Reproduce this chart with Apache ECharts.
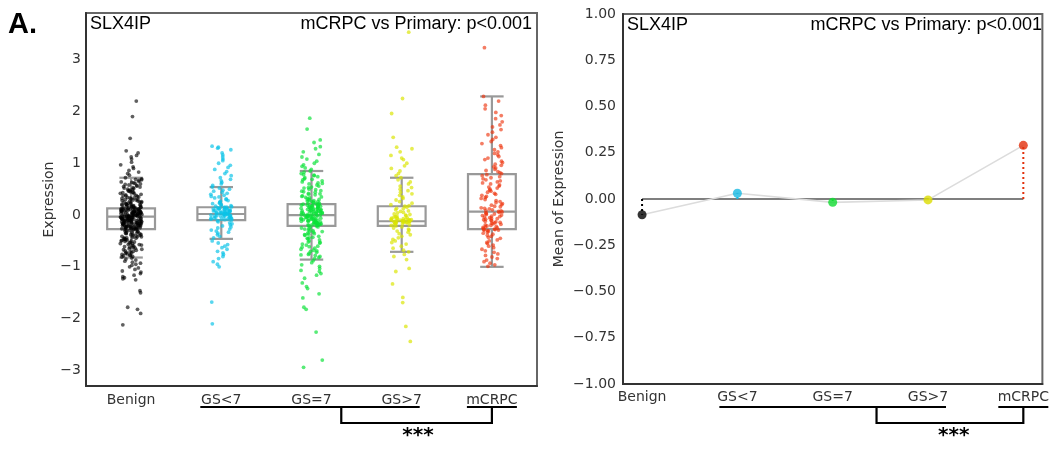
<!DOCTYPE html>
<html>
<head>
<meta charset="utf-8">
<script src="https://cdn.jsdelivr.net/npm/echarts@6/dist/echarts.min.js"></script>
<style>
html,body{margin:0;padding:0;background:#fff;}
#chart{width:1052px;height:451px;}
</style>
</head>
<body>
<div id="chart"></div>
<script>
// ---------------- data ----------------
const categories = ['Benign', 'GS<7', 'GS=7', 'GS>7', 'mCRPC'];
const leftYTicks = [-3, -2, -1, 0, 1, 2, 3];
const rightYTicks = [-1, -0.75, -0.5, -0.25, 0, 0.25, 0.5, 0.75, 1];

// boxplot statistics
const boxLow  = [-0.82, -0.46, -0.86, -0.71, -1.00];
const boxQ1   = [-0.27, -0.10, -0.21, -0.21, -0.27];
const boxMed  = [-0.03,  0.02,  0.00, -0.12,  0.065];
const boxQ3   = [ 0.13,  0.15,  0.21,  0.17,  0.79];
const boxHigh = [ 0.72,  0.54,  0.85,  0.72,  2.29];

// individual expression values
const benignValues = [2.2,1.9,1.48,1.24,1.2,1.15,1.12,1.08,1.02,0.97,0.93,0.9,0.86,0.83,0.8,0.77,
0.72,0.7,0.69,0.67,0.65,0.64,0.62,0.6,0.59,0.57,0.55,0.54,0.52,0.5,0.49,0.47,0.46,0.44,0.43,0.41,0.4,0.39,0.37,0.36,0.35,0.33,0.32,0.31,0.3,0.29,0.28,0.27,0.26,0.25,0.24,0.23,0.22,0.21,0.2,0.2,0.19,0.18,0.17,0.17,0.16,0.15,0.15,0.14,0.14,0.13,
0.68,0.63,0.58,0.53,0.48,0.45,0.42,0.38,0.34,0.3,0.27,0.24,0.22,0.19,0.16,0.14,
0.61,0.56,0.51,0.44,0.37,0.33,0.29,0.25,0.21,0.18,0.15,0.13,
0.12,0.12,0.11,0.11,0.1,0.1,0.09,0.09,0.09,0.08,0.08,0.07,0.07,0.07,0.06,0.06,0.05,0.05,0.05,0.04,0.04,0.03,0.03,0.03,0.02,0.02,0.01,0.01,0.01,0,0,0,-0.01,-0.01,-0.02,-0.02,-0.02,-0.03,-0.03,-0.03,-0.04,-0.04,-0.05,-0.05,-0.05,-0.06,-0.06,-0.07,-0.07,-0.07,-0.08,-0.08,-0.09,-0.09,-0.09,-0.1,-0.1,-0.11,-0.11,-0.11,-0.12,-0.12,-0.13,-0.13,-0.13,-0.14,-0.14,-0.15,-0.15,-0.15,-0.16,-0.16,-0.17,-0.17,-0.17,-0.18,-0.18,-0.19,-0.19,-0.2,-0.2,-0.21,-0.21,-0.22,-0.22,-0.23,-0.23,-0.24,-0.24,-0.25,-0.25,-0.26,-0.26,-0.27,-0.27,
0.115,0.095,0.075,0.055,0.035,0.015,-0.005,-0.025,-0.045,-0.065,-0.085,-0.105,-0.125,-0.145,-0.165,-0.185,-0.205,-0.225,-0.245,-0.265,
0.108,0.088,0.068,0.048,0.028,0.008,-0.012,-0.032,-0.052,-0.072,-0.092,-0.112,-0.132,-0.152,-0.172,-0.192,-0.212,-0.232,-0.252,-0.272,
-0.28,-0.29,-0.3,-0.31,-0.32,-0.33,-0.34,-0.35,-0.36,-0.37,-0.38,-0.39,-0.4,-0.41,-0.42,-0.43,-0.44,-0.45,-0.46,-0.47,-0.48,-0.49,-0.5,-0.51,-0.53,-0.54,-0.55,-0.57,-0.58,-0.59,-0.61,-0.62,-0.64,-0.65,-0.67,-0.68,-0.7,-0.72,-0.73,-0.75,-0.77,-0.79,-0.81,
-0.3,-0.34,-0.38,-0.42,-0.46,-0.5,-0.55,-0.6,-0.66,-0.71,-0.76,-0.8,
-0.32,-0.36,-0.4,-0.44,-0.48,-0.52,-0.57,-0.63,-0.69,-0.74,-0.78,
-0.83,-0.85,-0.87,-0.89,-0.91,-0.93,-0.95,-0.97,-1.0,-1.02,-1.05,-1.08,-1.1,-1.13,-1.16,-1.19,-1.21,-1.23,-1.25,-1.46,-1.5,-1.78,-1.82,-1.9,-2.12];

const gsLt7Values = [1.33,1.31,1.29,1.26,1.2,1.16,1.12,1.08,1.05,1.0,0.96,0.92,0.88,0.84,0.8,0.76,0.72,0.69,0.66,0.63,0.6,0.57,
0.54,0.52,0.5,0.48,0.46,0.44,0.42,0.4,0.38,0.36,0.35,0.33,0.31,0.3,0.28,0.27,0.25,0.24,0.23,0.22,0.2,0.19,0.18,0.17,0.16,
0.15,0.15,0.14,0.13,0.13,0.12,0.11,0.11,0.1,0.09,0.09,0.08,0.07,0.07,0.06,0.05,0.05,0.04,0.04,0.03,0.03,0.02,0.02,0.01,0.01,0,0,-0.01,-0.02,-0.02,-0.03,-0.04,-0.04,-0.05,-0.06,-0.06,-0.07,-0.08,-0.08,-0.09,-0.1,
0.14,0.12,0.1,0.08,0.06,0.04,0.02,0,-0.02,-0.04,-0.06,-0.08,
-0.11,-0.13,-0.15,-0.17,-0.19,-0.21,-0.23,-0.25,-0.27,-0.29,-0.31,-0.33,-0.35,-0.38,-0.41,-0.44,
-0.5,-0.54,-0.57,-0.6,-0.63,-0.66,-0.7,-0.73,-0.76,-0.8,-0.84,-0.9,-0.95,-1.0,-1.68,-2.1];

const gsEq7Values = [1.87,1.66,1.45,1.4,1.32,1.28,1.22,1.17,1.12,1.08,1.04,1.0,0.97,0.94,0.91,0.88,
0.85,0.83,0.8,0.78,0.76,0.74,0.72,0.7,0.68,0.66,0.64,0.62,0.6,0.58,0.56,0.54,0.52,0.5,0.49,0.47,0.45,0.44,0.42,0.4,0.39,0.37,0.36,0.34,0.33,0.31,0.3,0.29,0.28,0.27,0.26,0.25,0.24,0.23,0.22,0.21,
0.77,0.69,0.61,0.53,0.46,0.41,0.35,0.3,0.26,0.23,
0.21,0.2,0.2,0.19,0.19,0.18,0.18,0.17,0.16,0.16,0.15,0.15,0.14,0.13,0.13,0.12,0.12,0.11,0.1,0.1,0.09,0.09,0.08,0.07,0.07,0.06,0.06,0.05,0.04,0.04,0.03,0.03,0.02,0.01,0.01,0,0,-0.01,-0.02,-0.02,-0.03,-0.03,-0.04,-0.05,-0.05,-0.06,-0.06,-0.07,-0.08,-0.08,-0.09,-0.09,-0.1,-0.11,-0.11,-0.12,-0.12,-0.13,-0.14,-0.14,-0.15,-0.15,-0.16,-0.17,-0.17,-0.18,-0.18,-0.19,-0.2,-0.2,
0.18,0.14,0.1,0.06,0.02,-0.02,-0.06,-0.1,-0.14,-0.18,
0.16,0.12,0.08,0.04,0,-0.04,-0.08,-0.12,-0.16,-0.19,
-0.21,-0.23,-0.24,-0.26,-0.27,-0.29,-0.3,-0.32,-0.33,-0.35,-0.36,-0.38,-0.39,-0.41,-0.43,-0.44,-0.46,-0.48,-0.5,-0.52,-0.54,-0.56,-0.58,-0.6,-0.62,-0.64,-0.66,-0.68,-0.7,-0.72,-0.74,-0.76,-0.78,-0.8,-0.82,-0.84,
-0.25,-0.31,-0.37,-0.45,-0.53,-0.61,-0.69,-0.77,
-0.88,-0.92,-0.96,-0.99,-1.03,-1.07,-1.09,-1.13,-1.16,-1.22,-1.31,-1.38,-1.42,-1.52,-1.6,-1.78,-1.82,-2.26,-2.8,-2.94];

const gsGt7Values = [3.53,2.25,1.96,1.5,1.31,1.28,1.22,1.15,1.1,1.07,1.0,0.95,0.9,0.85,0.8,0.76,
0.72,0.68,0.64,0.6,0.56,0.53,0.5,0.47,0.44,0.41,0.38,0.35,0.32,0.29,0.26,0.23,0.2,0.18,
0.17,0.15,0.13,0.12,0.1,0.08,0.07,0.05,0.04,0.02,0.01,0,-0.01,-0.02,-0.03,-0.04,-0.05,-0.06,-0.06,-0.07,-0.07,-0.08,-0.08,-0.09,-0.09,-0.1,-0.1,-0.1,-0.11,-0.11,-0.11,-0.12,-0.12,-0.12,-0.13,-0.13,-0.13,-0.14,-0.14,-0.15,-0.15,-0.16,-0.16,-0.17,-0.18,-0.19,-0.2,-0.21,
-0.23,-0.25,-0.27,-0.29,-0.31,-0.33,-0.36,-0.38,-0.41,-0.44,-0.47,-0.5,-0.53,-0.56,-0.6,-0.64,-0.68,-0.71,
-0.76,-0.8,-0.86,-1.03,-1.09,-1.33,-1.59,-1.69,-2.15,-2.44];

const mcrpcValues = [3.23,
2.29,2.2,2.12,2.05,1.98,1.92,1.86,1.8,1.74,1.7,1.65,1.6,1.55,1.5,1.46,1.42,1.38,1.34,1.3,1.26,1.22,1.19,1.16,1.13,1.1,1.07,1.04,1.01,0.98,0.96,0.93,0.91,0.88,0.86,0.84,0.82,0.8,
0.78,0.76,0.74,0.72,0.7,0.68,0.66,0.64,0.62,0.6,0.58,0.56,0.54,0.52,0.5,0.48,0.46,0.44,0.42,0.4,0.38,0.36,0.34,0.32,0.3,0.28,0.26,0.24,0.22,0.2,0.19,0.17,0.16,0.14,0.13,0.12,0.1,0.09,0.08,0.07,0.06,0.05,0.04,0.03,0.02,0.01,0,-0.01,-0.02,-0.03,-0.04,-0.05,-0.06,-0.07,-0.08,-0.09,-0.1,-0.11,-0.12,-0.13,-0.14,-0.15,-0.16,-0.17,-0.18,-0.19,-0.2,-0.21,-0.22,-0.23,-0.24,-0.25,-0.26,-0.27,
-0.28,-0.28,-0.29,-0.29,-0.3,-0.31,-0.33,-0.35,-0.37,-0.39,-0.41,-0.43,-0.45,-0.48,-0.5,-0.53,-0.55,-0.58,-0.6,-0.63,-0.66,-0.69,-0.72,-0.75,-0.78,-0.81,-0.84,-0.87,-0.9,-0.93,-0.96,-0.99];

const groupValues = [benignValues, gsLt7Values, gsEq7Values, gsGt7Values, mcrpcValues];

// group means (right panel)
const groupMeans = [-0.085, 0.031, -0.018, -0.005, 0.29];

// ---------------- styles ----------------
const pointColors = ['rgba(0,0,0,0.78)', 'rgba(10,195,232,0.85)', 'rgba(10,225,55,0.85)', 'rgba(218,228,0,0.85)', 'rgba(238,52,12,0.8)'];
const meanColors = ['#000000', '#18b9e2', '#12dc32', '#dcdc00', '#e2300c'];
const FONT = 'DejaVu Sans';
const L = {left: 86, top: 13, width: 451, height: 373};
const R = {left: 623, top: 14, width: 424, height: 370};

const chart = echarts.init(document.getElementById('chart'), null, {renderer: 'canvas'});

function fmtInt(v) { return v < 0 ? '\u2212' + Math.abs(v) : String(v); }
function fmt2(v) { return v < 0 ? '\u2212' + Math.abs(v).toFixed(2) : v.toFixed(2); }

// horizontal strip-plot jitter (layout only, deterministic)
const JITTER = 0.12;
function jit(k, gi) { const s = Math.sin((k + 1) * 12.9898 + (gi + 1) * 78.233) * 43758.5453; return (s - Math.floor(s)) - 0.5; }

const scatterSeries = groupValues.map((vals, gi) => ({
  type: 'scatter', xAxisIndex: 0, yAxisIndex: 0, z: 3,
  symbolSize: 3.8,
  itemStyle: {color: pointColors[gi]},
  data: vals.map((v, k) => [gi + jit(k, gi) * 2 * JITTER, v]),
  silent: true
}));

const boxData = categories.map((c, i) => [i, boxLow[i], boxQ1[i], boxMed[i], boxQ3[i], boxHigh[i]]);

const boxSeries = {
  type: 'custom', xAxisIndex: 0, yAxisIndex: 0, z: 2,
  data: boxData,
  encode: {x: 0, y: [1, 2, 3, 4, 5]},
  renderItem: function (params, api) {
    const i = api.value(0);
    const hw = 0.265, cw = 0.13;
    const xL = api.coord([i - hw, 0])[0], xR = api.coord([i + hw, 0])[0];
    const cL = api.coord([i - cw, 0])[0], cR = api.coord([i + cw, 0])[0];
    const xc = api.coord([i, 0])[0];
    const yLow = api.coord([i, api.value(1)])[1];
    const yQ1 = api.coord([i, api.value(2)])[1];
    const yMed = api.coord([i, api.value(3)])[1];
    const yQ3 = api.coord([i, api.value(4)])[1];
    const yHigh = api.coord([i, api.value(5)])[1];
    const st = {stroke: '#999999', lineWidth: 2.2, fill: null};
    return {
      type: 'group',
      children: [
        {type: 'rect', shape: {x: xL, y: yQ3, width: xR - xL, height: yQ1 - yQ3}, style: st},
        {type: 'line', shape: {x1: xL, y1: yMed, x2: xR, y2: yMed}, style: st},
        {type: 'line', shape: {x1: xc, y1: yQ3, x2: xc, y2: yHigh}, style: st},
        {type: 'line', shape: {x1: xc, y1: yQ1, x2: xc, y2: yLow}, style: st},
        {type: 'line', shape: {x1: cL, y1: yHigh, x2: cR, y2: yHigh}, style: st},
        {type: 'line', shape: {x1: cL, y1: yLow, x2: cR, y2: yLow}, style: st}
      ]
    };
  }
};

const zeroLine = {
  type: 'line', xAxisIndex: 1, yAxisIndex: 1, z: 2, symbol: 'none', silent: true,
  lineStyle: {color: '#555555', width: 1.3},
  data: [[0, 0], [categories.length - 1, 0]]
};
const meanLine = {
  type: 'line', xAxisIndex: 1, yAxisIndex: 1, z: 3, symbol: 'none', silent: true,
  lineStyle: {color: '#dcdcdc', width: 1.6},
  data: groupMeans.map((m, i) => [i, m])
};
const dropLines = {
  type: 'custom', xAxisIndex: 1, yAxisIndex: 1, z: 4,
  data: groupMeans.map((m, i) => [i, m]),
  encode: {x: 0, y: 1},
  renderItem: function (params, api) {
    const i = api.value(0);
    const p0 = api.coord([i, 0]);
    const p1 = api.coord([i, api.value(1)]);
    return {type: 'line', shape: {x1: p0[0], y1: p0[1], x2: p1[0], y2: p1[1]},
      style: {stroke: meanColors[i], lineWidth: 2, lineDash: [2, 3]}};
  }
};
const meanPoints = {
  type: 'scatter', xAxisIndex: 1, yAxisIndex: 1, z: 5, symbolSize: 9, silent: true,
  data: groupMeans.map((m, i) => ({value: [i, m], itemStyle: {color: meanColors[i]}}))
};

const axisLabelBase = {color: '#333333', fontSize: 14, fontFamily: FONT};

const option = {
  animation: false,
  backgroundColor: '#ffffff',
  grid: [
    Object.assign({show: true, borderColor: '#666666', borderWidth: 2, backgroundColor: 'transparent'}, L),
    Object.assign({show: true, borderColor: '#666666', borderWidth: 2, backgroundColor: 'transparent'}, R)
  ],
  xAxis: [
    {gridIndex: 0, type: 'value', min: -0.5, max: categories.length - 0.5,
     axisLine: {show: true, onZero: false, lineStyle: {color: '#333333', width: 2}},
     axisTick: {show: false}, splitLine: {show: false},
     axisLabel: Object.assign({customValues: categories.map((c, i) => i), formatter: v => categories[Math.round(v)], margin: 7}, axisLabelBase)},
    {gridIndex: 1, type: 'value', min: -0.2, max: categories.length - 1 + 0.2,
     axisLine: {show: true, onZero: false, lineStyle: {color: '#333333', width: 2}},
     axisTick: {show: false}, splitLine: {show: false},
     axisLabel: Object.assign({customValues: categories.map((c, i) => i), formatter: v => categories[Math.round(v)], margin: 6}, axisLabelBase)}
  ],
  yAxis: [
    {gridIndex: 0, type: 'value', min: -3.3, max: 3.9,
     name: 'Expression', nameLocation: 'middle', nameGap: 30,
     nameTextStyle: {color: '#333333', fontSize: 14, fontFamily: FONT},
     axisLine: {show: true, onZero: false, lineStyle: {color: '#333333', width: 2}},
     axisTick: {show: false}, splitLine: {show: false},
     axisLabel: Object.assign({customValues: leftYTicks, formatter: fmtInt, margin: 5}, axisLabelBase)},
    {gridIndex: 1, type: 'value', min: -1, max: 1,
     name: 'Mean of Expression', nameLocation: 'middle', nameGap: 57,
     nameTextStyle: {color: '#333333', fontSize: 14, fontFamily: FONT},
     axisLine: {show: true, onZero: false, lineStyle: {color: '#333333', width: 2}},
     axisTick: {show: false}, splitLine: {show: false},
     axisLabel: Object.assign({customValues: rightYTicks, formatter: fmt2, margin: 7}, axisLabelBase)}
  ],
  series: [boxSeries].concat(scatterSeries, [zeroLine, meanLine, dropLines, meanPoints])
};

chart.setOption(option);

// ---------------- annotations (positions from axes) ----------------
function px(grid, x, y) { return chart.convertToPixel({gridIndex: grid}, [x, y]); }
const TXT = 'Liberation Sans, Arial, sans-serif';
const g = [];
g.push({type: 'text', left: 8, top: 10, style: {text: 'A.', font: 'bold 29px ' + TXT, fill: '#000'}});
// panel titles
[L, R].forEach((G) => {
  g.push({type: 'text', x: G.left + 4, y: G.top + 2, style: {text: 'SLX4IP', font: '18px ' + TXT, fill: '#000', align: 'left', verticalAlign: 'top', textAlign: 'left', textVerticalAlign: 'top'}});
  g.push({type: 'text', x: G.left + G.width - 5, y: G.top + 2, style: {text: 'mCRPC vs Primary: p<0.001', font: '18px ' + TXT, fill: '#000', align: 'right', verticalAlign: 'top', textAlign: 'right', textVerticalAlign: 'top'}});
});
// significance brackets
function bracket(grid, startOff, endOff, mcOff, legPos, starsPos) {
  const yLine = 407, yBot = 423;
  const x1 = px(grid, 1, 0)[0] - startOff;
  const x3 = px(grid, 3, 0)[0] + endOff;
  const xm = px(grid, 4, 0)[0];
  const xLeg = px(grid, legPos, 0)[0];
  const ls = {stroke: '#000', lineWidth: 2.2};
  g.push({type: 'line', shape: {x1: x1, y1: yLine, x2: x3, y2: yLine}, style: ls});
  g.push({type: 'line', shape: {x1: xm - mcOff, y1: yLine, x2: xm + mcOff, y2: yLine}, style: ls});
  g.push({type: 'polyline', shape: {points: [[xLeg, yLine], [xLeg, yBot], [xm, yBot], [xm, yLine]]}, style: {stroke: '#000', lineWidth: 2.2, fill: null}});
  const sx = px(grid, starsPos, 0)[0];
  g.push({type: 'text', x: sx, y: 436, style: {text: '***', font: 'bold 20px DejaVu Sans', fill: '#000', align: 'center', verticalAlign: 'middle', textAlign: 'center', textVerticalAlign: 'middle'}});
}
bracket(0, 21, 18, 25, 2.33, 3.18);
bracket(1, 18, 18, 25, 2.46, 3.27);
chart.setOption({graphic: g});
</script>
</body>
</html>
